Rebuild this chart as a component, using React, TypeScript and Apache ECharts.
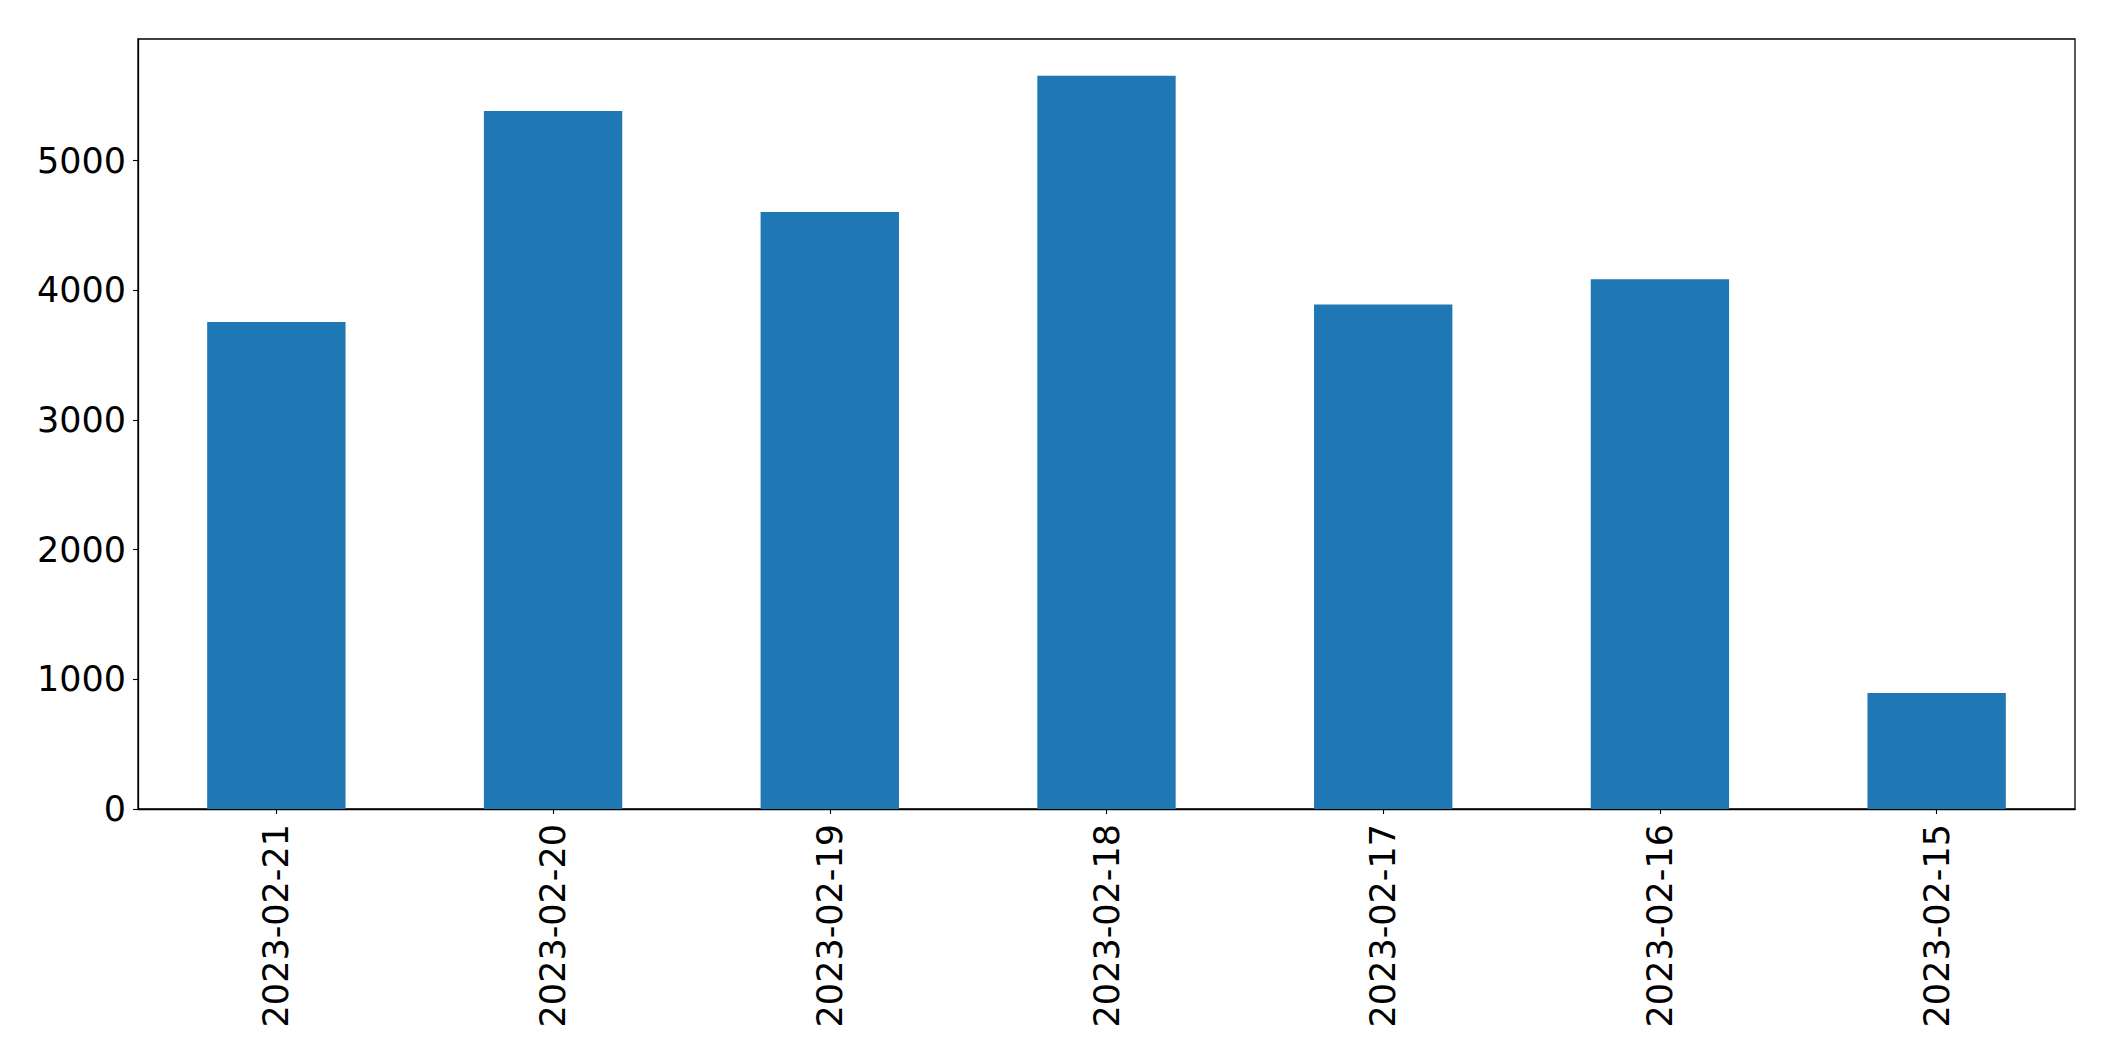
import React, { useEffect, useRef } from "react";
import * as echarts from "echarts";

const categories = ["2023-02-21", "2023-02-20", "2023-02-19", "2023-02-18", "2023-02-17", "2023-02-16", "2023-02-15"];
const values = [3755, 5382, 4604, 5655, 3890, 4086, 894];
const yTicks = [0, 1000, 2000, 3000, 4000, 5000];
const yMax = 5938;

export default function App() {
  const ref = useRef<HTMLDivElement>(null);
  useEffect(() => {
    document.body.style.margin = "0";
    const chart = echarts.init(ref.current!, null, { renderer: "svg" });
    const font = "DejaVu Sans";
    chart.setOption({
      animation: false,
      backgroundColor: "#ffffff",
      grid: {
        left: 138,
        right: 40,
        top: 39,
        bottom: 252,
        show: true,
        borderColor: "#000000",
        borderWidth: 1.3,
        backgroundColor: "transparent",
      },
      xAxis: {
        type: "category",
        data: categories,
        boundaryGap: true,
        axisLine: { show: true, lineStyle: { color: "#000", width: 1.3 } },
        axisTick: { show: true, alignWithLabel: true, length: 5, lineStyle: { color: "#000", width: 1.1 } },
        axisLabel: { rotate: 90, margin: 15, fontSize: 35, fontFamily: font, color: "#000" },
        splitLine: { show: false },
      },
      yAxis: {
        type: "value",
        min: 0,
        max: yMax,
        interval: 1000,
        axisLine: { show: true, lineStyle: { color: "#000", width: 1.3 } },
        axisTick: { show: true, length: 5, lineStyle: { color: "#000", width: 1.1 }, customValues: yTicks },
        axisLabel: {
          margin: 12,
          fontSize: 35,
          fontFamily: font,
          color: "#000",
          customValues: yTicks,
          formatter: (v: number) => String(v),
        },
        splitLine: { show: false },
      },
      series: [
        {
          type: "bar",
          data: values,
          barWidth: "50%",
          itemStyle: { color: "#1f77b4" },
        },
      ],
    });
    return () => chart.dispose();
  }, []);
  return <div ref={ref} style={{ width: 2115, height: 1061 }} />;
}
